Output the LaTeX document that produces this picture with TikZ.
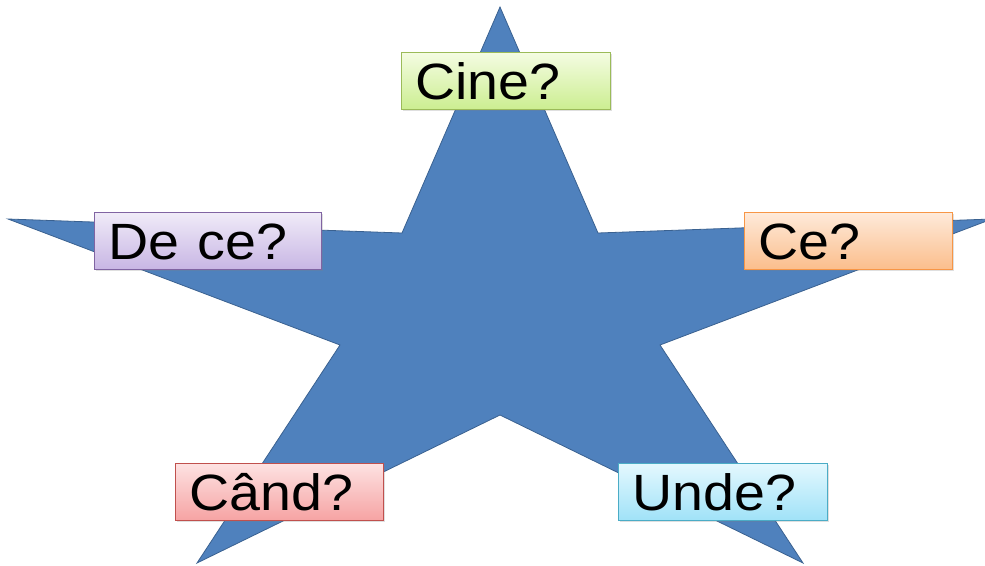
\documentclass[tikz,border=0pt]{standalone}
\usepackage{fontspec}
\setmainfont{Liberation Sans}
\usetikzlibrary{shadows}
\definecolor{starfill}{HTML}{4F81BD}
\definecolor{starline}{HTML}{3A6190}
\begin{document}
\begin{tikzpicture}[x=1pt,y=-1pt,
  qbox/.style={draw, line width=0.8pt, anchor=north west, minimum width=209pt, minimum height=57pt,
    text width=181pt, align=left, inner xsep=14pt, inner ysep=0pt,
    text height=37pt, text depth=0pt, font=\fontsize{51}{52}\selectfont,
    drop shadow={shadow xshift=1.5pt, shadow yshift=-2pt, opacity=0.25}},
  ]
\useasboundingbox (0,0) rectangle (985,565);
\begin{scope}
\clip (0,0) rectangle (985,565);
\draw[fill=starfill, draw=starline, line width=0.8pt]
  (500,7) -- (598,233) -- (992,219) -- (660,345) -- (803,563) -- (500,415)
  -- (197,563) -- (340,345) -- (8,219) -- (402,233) -- cycle;
\end{scope}
\node[qbox, draw={rgb,255:red,155;green,187;blue,89}, top color={rgb,255:red,244;green,252;blue,226}, bottom color={rgb,255:red,204;green,238;blue,145}] (cine) at (401,52) {\scalebox{1.09}[1]{Cine?}};
\node[qbox, draw={rgb,255:red,128;green,100;blue,162}, top color={rgb,255:red,240;green,235;blue,248}, bottom color={rgb,255:red,200;green,182;blue,228}, minimum width=227pt, text width=199pt] (dece) at (94,212) {\scalebox{1.09}[1]{De ce?}};
\node[qbox, draw={rgb,255:red,247;green,150;blue,70}, top color={rgb,255:red,254;green,234;blue,218}, bottom color={rgb,255:red,251;green,190;blue,140}, minimum width=208pt, text width=180pt] (ce) at (744,212) {\scalebox{1.09}[1]{Ce?}};
\node[qbox, draw={rgb,255:red,192;green,80;blue,77}, top color={rgb,255:red,253;green,226;blue,226}, bottom color={rgb,255:red,246;green,163;blue,163}, minimum width=208pt, text width=180pt] (cand) at (175,463) {\scalebox{1.09}[1]{Când?}};
\node[qbox, draw={rgb,255:red,75;green,172;blue,198}, top color={rgb,255:red,228;green,248;blue,254}, bottom color={rgb,255:red,160;green,226;blue,248}] (unde) at (618,463) {\scalebox{1.09}[1]{Unde?}};
\end{tikzpicture}
\end{document}
